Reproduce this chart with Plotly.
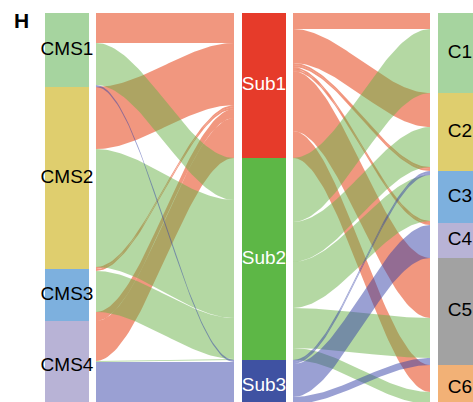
import numpy as np
import plotly.graph_objects as go

# ---- data -------------------------------------------------------------
cms_labels = ["CMS1", "CMS2", "CMS3", "CMS4"]
sub_labels = ["Sub1", "Sub2", "Sub3"]
c_labels = ["C1", "C2", "C3", "C4", "C5", "C6"]

# CMS -> Sub flows, listed in stacking order (top to bottom) on the CMS side
cms_sub_from = ["CMS1", "CMS1", "CMS1", "CMS2", "CMS2", "CMS2",
                "CMS3", "CMS3", "CMS3", "CMS4", "CMS4", "CMS4"]
cms_sub_to = ["Sub1", "Sub2", "Sub3", "Sub1", "Sub2", "Sub1",
              "Sub1", "Sub2", "Sub1", "Sub1", "Sub2", "Sub3"]
cms_sub_n = [30, 42, 2, 62, 118, 2, 2, 41, 9, 40, 1, 50]
cms_sub_rank = [0, 0, 0, 1, 1, 2, 3, 2, 4, 5, 3, 1]

# Sub -> C flows, listed in stacking order on the Sub side;
# rank = stacking position inside the C column
sub_c_from = ["Sub1"] * 8 + ["Sub2"] * 5 + ["Sub3"] * 5
sub_c_to = ["C1", "C2", "C2", "C2", "C3", "C4", "C5", "C6",
            "C1", "C2", "C3", "C5", "C6",
            "C3", "C3", "C4", "C5", "C6"]
sub_c_n = [16, 34, 2, 2, 2, 2, 60, 27,
           64, 40, 46, 40, 12,
           2, 2, 33, 7, 8]
sub_c_rank = [0, 0, 2, 3, 3, 0, 0, 0,
              1, 1, 2, 1, 1,
              0, 1, 1, 2, 2]

node_colors = {
    "CMS1": "#A6D49F", "CMS2": "#DFCE6E", "CMS3": "#7DB0DE", "CMS4": "#B8B3D6",
    "Sub1": "#E63B2A", "Sub2": "#5DB746", "Sub3": "#3F52A2",
    "C1": "#A6D49F", "C2": "#DFCE6E", "C3": "#7DB0DE", "C4": "#B8B3D6",
    "C5": "#A2A2A2", "C6": "#F2B176",
}
flow_colors = {
    "Sub1": "rgba(230,66,22,0.55)",
    "Sub2": "rgba(106,177,72,0.5)",
    "Sub3": "rgba(53,65,168,0.5)",
}

# ---- layout constants (axis units == pixels) ---------------------------
W, H = 473, 402
Y_TOP, Y_BOTTOM = 13, 412
BAR_W = 44
col_x = {"CMS": 67, "Sub": 264, "C": 460}
left_links = (96, 234)
right_links = (293, 430)
FONT = "Liberation Sans, Arial, sans-serif"


def column(labels, totals):
    total = sum(totals[l] for l in labels)
    scale = (Y_BOTTOM - Y_TOP) / total
    tops, y = {}, Y_TOP
    for l in labels:
        tops[l] = y
        y += totals[l] * scale
    return tops, scale


def sums(keys, vals):
    out = {}
    for k, v in zip(keys, vals):
        out[k] = out.get(k, 0) + v
    return out


cms_tot = sums(cms_sub_from, cms_sub_n)
sub_tot = sums(cms_sub_to, cms_sub_n)
c_tot = sums(sub_c_to, sub_c_n)

cms_top, sc = column(cms_labels, cms_tot)
sub_top, _ = column(sub_labels, sub_tot)
c_top, _ = column(c_labels, c_tot)


def stack(src, dst, n, rank, src_top, dst_top):
    """Return the (top, bottom) extent of every flow at both ends."""
    src_off = dict(src_top)
    a = []
    for s, v in zip(src, n):
        a.append((src_off[s], src_off[s] + v * sc))
        src_off[s] += v * sc
    b = [None] * len(n)
    for d in dst_top:
        idx = sorted([i for i in range(len(n)) if dst[i] == d], key=lambda i: rank[i])
        y = dst_top[d]
        for i in idx:
            b[i] = (y, y + n[i] * sc)
            y += n[i] * sc
    return a, b


t = np.linspace(0, 1, 60)
ease = 3 * t ** 2 - 2 * t ** 3


def ribbon(x0, x1, ya, yb):
    xs = x0 + (x1 - x0) * t
    top = ya[0] + (yb[0] - ya[0]) * ease
    bot = ya[1] + (yb[1] - ya[1]) * ease
    return (np.concatenate([xs, xs[::-1], xs[:1]]),
            np.concatenate([top, bot[::-1], top[:1]]))


flows = []
a, b = stack(cms_sub_from, cms_sub_to, cms_sub_n, cms_sub_rank, cms_top, sub_top)
for i in range(len(cms_sub_n)):
    flows.append((cms_sub_to[i], left_links, a[i], b[i]))
a, b = stack(sub_c_from, sub_c_to, sub_c_n, sub_c_rank, sub_top, c_top)
for i in range(len(sub_c_n)):
    flows.append((sub_c_from[i], right_links, a[i], b[i]))

fig = go.Figure()

# ribbons: red first, then green, then blue on top
for grp in sub_labels:
    for g, (x0, x1), ya, yb in flows:
        if g != grp:
            continue
        xs, ys = ribbon(x0, x1, ya, yb)
        fig.add_trace(go.Scatter(x=xs, y=ys, mode="lines", fill="toself",
                                 fillcolor=flow_colors[g], line=dict(width=0),
                                 hoverinfo="skip", showlegend=False))

# stratum blocks with their labels
for key, labels, tops, tot in [("CMS", cms_labels, cms_top, cms_tot),
                               ("Sub", sub_labels, sub_top, sub_tot),
                               ("C", c_labels, c_top, c_tot)]:
    fig.add_trace(go.Bar(
        x=[col_x[key]] * len(labels),
        base=[tops[l] for l in labels],
        y=[tot[l] * sc for l in labels],
        width=BAR_W,
        marker=dict(color=[node_colors[l] for l in labels], line=dict(width=0)),
        hoverinfo="skip", showlegend=False))
    fig.add_trace(go.Scatter(
        x=[col_x[key]] * len(labels),
        y=[tops[l] + tot[l] * sc / 2 for l in labels],
        text=labels, mode="text",
        textfont=dict(family=FONT, size=19,
                      color="white" if key == "Sub" else "black"),
        hoverinfo="skip", showlegend=False))

fig.add_annotation(x=21.5, y=20, text="<b>H</b>", showarrow=False,
                   font=dict(family=FONT, size=21, color="black"),
                   xanchor="center", yanchor="middle")

fig.update_layout(
    width=W, height=H, autosize=False,
    margin=dict(l=0, r=0, t=0, b=0),
    paper_bgcolor="white", plot_bgcolor="white",
    barmode="overlay",
    xaxis=dict(range=[0, W], visible=False, fixedrange=True),
    yaxis=dict(range=[H, 0], visible=False, fixedrange=True),
)

fig.write_html("out.html")
